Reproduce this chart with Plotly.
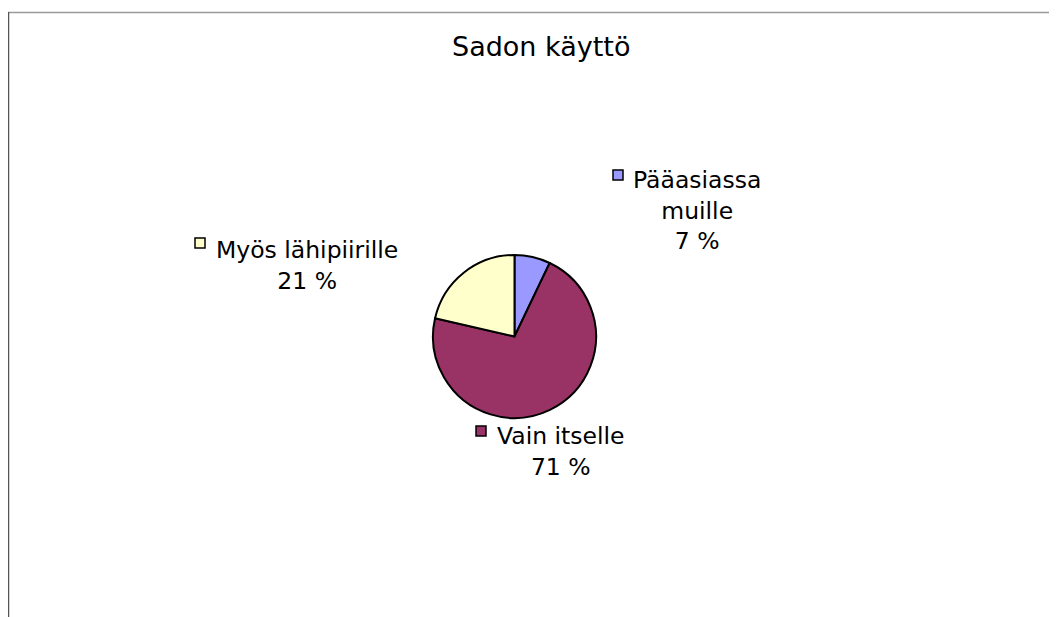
import plotly.graph_objects as go

W, H = 1057, 617
OFF = 8  # page body margin in the browser

title_text = "Sadon käyttö"
categories = ["Pääasiassa muille", "Vain itselle", "Myös lähipiirille"]
values = [7.1, 71.4, 21.4]
pct_labels = ["7 %", "71 %", "21 %"]
label_lines = [["Pääasiassa", "muille"], ["Vain itselle"], ["Myös lähipiirille"]]
colors = ["#9999FF", "#993366", "#FFFFCC"]

FONT = "DejaVu Sans"


def px(x):
    return (x - OFF) / W


def py(y):
    return 1 - (y - OFF) / H


# pie geometry (window pixels)
cx, cy, r = 514.5, 336.5, 81.5

fig = go.Figure(go.Pie(
    labels=categories,
    values=values,
    sort=False,
    direction="clockwise",
    rotation=0,
    marker=dict(colors=colors, line=dict(color="#000000", width=2)),
    textinfo="none",
    hoverinfo="label+percent",
    domain=dict(x=[px(cx - r), px(cx + r)], y=[py(cy + r), py(cy - r)]),
    showlegend=False,
))

# label placement (window pixels): text block center, legend square center
label_pos = [
    dict(x=697, y=211, sq=(618, 175)),
    dict(x=561, y=451, sq=(481, 431)),
    dict(x=307, y=265, sq=(200, 243)),
]

annotations = [dict(
    text=title_text, x=px(541), y=py(46), xref="paper", yref="paper",
    showarrow=False, xanchor="center", yanchor="middle",
    font=dict(family=FONT, size=27, color="#000000"),
)]
shapes = []
for lines, pct, pos, col in zip(label_lines, pct_labels, label_pos, colors):
    annotations.append(dict(
        text="<br>".join(lines + [pct]), x=px(pos["x"]), y=py(pos["y"]),
        xref="paper", yref="paper", showarrow=False, align="center",
        xanchor="center", yanchor="middle",
        font=dict(family=FONT, size=23.5, color="#000000"),
    ))
    sx, sy = pos["sq"]
    shapes.append(dict(
        type="rect", xref="paper", yref="paper",
        x0=px(sx - 5), x1=px(sx + 5), y0=py(sy + 5), y1=py(sy - 5),
        line=dict(color="#000000", width=1.5), fillcolor=col,
    ))

# partial chart-area frame (top and left edges)
shapes.append(dict(type="line", xref="paper", yref="paper",
                   x0=px(8), x1=1, y0=py(12.5), y1=py(12.5),
                   line=dict(color="#9a9a9a", width=1.5)))
shapes.append(dict(type="line", xref="paper", yref="paper",
                   x0=px(8.5), x1=px(8.5), y0=py(12), y1=0,
                   line=dict(color="#555555", width=1.5)))

fig.update_layout(
    width=W, height=H,
    margin=dict(l=0, r=0, t=0, b=0),
    paper_bgcolor="#FFFFFF", plot_bgcolor="#FFFFFF",
    annotations=annotations, shapes=shapes,
)

fig.write_html("out.html")
